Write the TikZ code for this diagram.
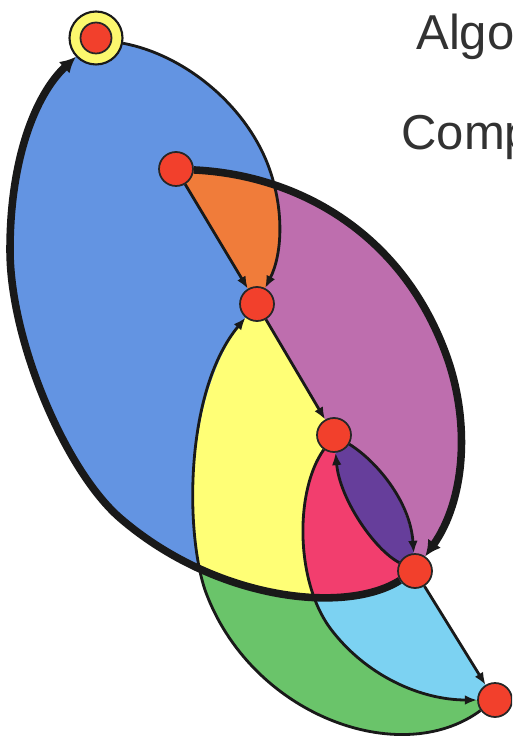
\documentclass[tikz,border=0pt]{standalone}
\usepackage{fontspec}
\setmainfont{Liberation Sans}
\usepackage{tikz}
\usetikzlibrary{arrows.meta, backgrounds}
\definecolor{regblue}{RGB}{99,148,226}
\definecolor{regorange}{RGB}{240,124,58}
\definecolor{regmagenta}{RGB}{190,110,174}
\definecolor{regyellow}{RGB}{255,255,118}
\definecolor{regred}{RGB}{242,62,110}
\definecolor{regviolet}{RGB}{102,62,155}
\definecolor{regsky}{RGB}{124,210,242}
\definecolor{reggreen}{RGB}{106,196,106}
\definecolor{nodered}{RGB}{242,64,44}
\definecolor{ringyellow}{RGB}{252,248,110}
\definecolor{textgray}{RGB}{50,50,50}
\tikzset{
  vtx/.style={circle, draw=black!85, line width=1pt, fill=nodered, minimum size=0.68cm, inner sep=0pt},
  ringvtx/.style={circle, draw=black!90, line width=1.2pt, fill=ringyellow, minimum size=1.06cm, inner sep=0pt},
  edge/.style={draw=black!90, line width=1.6pt, -{Latex[length=7pt, width=5.5pt]}},
  bigedge/.style={draw=black!90, line width=4.3pt, -{Latex[length=9pt, width=9pt]}},
  lbl/.style={font=\fontsize{27.9pt}{32pt}\selectfont, text=textgray, inner sep=0pt, anchor=base west}
}

\begin{document}
\begin{tikzpicture}[x=0.02cm, y=-0.02cm]
    \useasboundingbox (0,0) rectangle (512,742);
    \clip (0,0) rectangle (512,742);

    % vertices
    \node[ringvtx] (A) at (96,38) {};
    \node[vtx, minimum size=0.62cm] (A0) at (A) {};
    \node[vtx] (B) at (176,169) {};
    \node[vtx] (C) at (257,304) {};
    \node[vtx] (D) at (334,435) {};
    \node[vtx] (E) at (415,571) {};
    \node[vtx] (F) at (495,700) {};

    \node[lbl] (t1) at (416,50) {Algo};
    \node[lbl] (t2) at (401,150) {Comp};

    % faces
    \begin{scope}[on background layer]
        \fill[regblue] (E.212) .. controls (345,615) and (215,600) .. (120,518)
            .. controls (65,470) and (10,340) .. (10,250)
            .. controls (10,160) and (35,95) .. (A.223) -- (A.349)
            .. controls (185,55) and (245,105) .. (268,165)
            .. controls (285,210) and (282,255) .. (C.63) -- (C.300) -- (D.120) -- (D.329)
            .. controls (375,460) and (410,500) .. (E.94) -- cycle;
        \fill[regmagenta] (B.357) .. controls (300,175) and (405,235) .. (448,360)
            .. controls (470,425) and (465,500) .. (E.55) -- (E.94)
            .. controls (410,500) and (375,460) .. (D.329) -- (D.120) -- (C.300) -- (C.121) -- (B.301) -- cycle;
        \begin{scope}
            \clip (B.357) .. controls (300,175) and (405,235) .. (448,360)
                .. controls (470,425) and (465,500) .. (E.55) -- (E.94)
                .. controls (410,500) and (375,460) .. (D.329) -- (D.120) -- (C.300) -- (C.121) -- (B.301) -- cycle;
            \fill[regorange] (A.349) .. controls (185,55) and (245,105) .. (268,165)
                .. controls (285,210) and (282,255) .. (C.63) -- (C.121) -- (B.301) -- cycle;
        \end{scope}
        \fill[regyellow] (C.300) -- (D.120) -- (D.235) .. controls (295,490) and (295,580) .. (330,628)
            .. controls (365,675) and (420,700) .. (F.180) -- (F.216)
            .. controls (400,770) and (250,715) .. (205,590)
            .. controls (185,530) and (185,390) .. (C.230) -- cycle;
        \fill[regred] (D.235) .. controls (295,490) and (295,580) .. (330,628)
            .. controls (365,675) and (420,700) .. (F.180) -- (F.122) -- (E.302) -- (E.152)
            .. controls (375,550) and (340,500) .. (D.275) -- cycle;
        \fill[regviolet] (D.329) .. controls (375,460) and (410,500) .. (E.94) -- (E.152)
            .. controls (375,550) and (340,500) .. (D.275) -- cycle;
        % below the thick loop
        \begin{scope}
            \clip (E.212) .. controls (345,615) and (215,600) .. (120,518) -- (0,742) -- (512,742) -- (512,560) -- cycle;
            \fill[reggreen] (C.300) -- (D.120) -- (D.235) .. controls (295,490) and (295,580) .. (330,628)
                .. controls (365,675) and (420,700) .. (F.180) -- (F.216)
                .. controls (400,770) and (250,715) .. (205,590)
                .. controls (185,530) and (185,390) .. (C.230) -- cycle;
            \fill[regsky] (D.235) .. controls (295,490) and (295,580) .. (330,628)
                .. controls (365,675) and (420,700) .. (F.180) -- (F.122) -- (E.302) -- (E.152)
                .. controls (375,550) and (340,500) .. (D.275) -- cycle;
        \end{scope}
    \end{scope}

    % thin arcs
    \draw[edge] (A.349) .. controls (185,55) and (245,105) .. (268,165)
        .. controls (285,210) and (282,255) .. (C.63);
    \draw[edge] (B.301) -- (C.121);
    \draw[edge] (C.300) -- (D.120);
    \draw[edge] (D.329) .. controls (375,460) and (410,500) .. (E.94);
    \draw[edge] (E.152) .. controls (375,550) and (340,500) .. (D.275);
    \draw[edge] (E.302) -- (F.122);
    \draw[edge] (D.235) .. controls (295,490) and (295,580) .. (330,628)
        .. controls (365,675) and (420,700) .. (F.180);
    \draw[edge] (F.216) .. controls (400,770) and (250,715) .. (205,590)
        .. controls (185,530) and (185,390) .. (C.230);

    % thick arcs
    \draw[bigedge] (B.357) .. controls (300,175) and (405,235) .. (448,360)
        .. controls (470,425) and (465,500) .. (E.55);
    \draw[bigedge] (E.212) .. controls (345,615) and (215,600) .. (120,518)
        .. controls (65,470) and (10,340) .. (10,250)
        .. controls (10,160) and (35,95) .. (A.223);
\end{tikzpicture}
\end{document}
